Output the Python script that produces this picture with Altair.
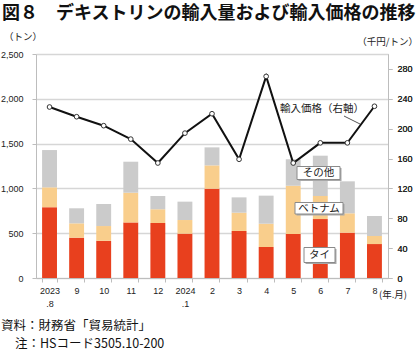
import altair as alt
import pandas as pd

months = ["2023.8", "9", "10", "11", "12", "2024.1", "2", "3", "4", "5", "6", "7", "8"]
thai = [790, 450, 415, 620, 615, 495, 997, 525, 346, 491, 658, 506, 379]
vietnam = [222, 160, 165, 332, 152, 152, 260, 204, 260, 539, 257, 216, 90]
others = [416, 168, 246, 346, 148, 205, 201, 171, 313, 295, 450, 357, 223]
price = [229, 216, 204, 186, 154, 194, 220, 159, 270, 154, 181, 181, 230]

series_names = ["タイ", "ベトナム", "その他"]
series_colors = ["#E8401E", "#F9CE8C", "#CBCBCB"]

rows = []
for i, m in enumerate(months):
    for k, (name, vals) in enumerate(zip(series_names, [thai, vietnam, others])):
        rows.append({"month": m, "series": name, "value": vals[i], "order": k})
bars_df = pd.DataFrame(rows)
line_df = pd.DataFrame({"month": months, "price": price})

JP = "Noto Sans CJK JP"
AX = "Liberation Sans"

xenc = alt.X(
    "month:N", sort=months, title=None,
    scale=alt.Scale(paddingInner=0.45, paddingOuter=0.225),
    axis=alt.Axis(
        labelAngle=0, tickBand="extent", tickSize=4, tickColor="#BDBDBD",
        domainColor="#BDBDBD", labelPadding=4, labelFont=AX, labelFontSize=9,
        labelColor="#222", labelLineHeight=13, labelBaseline="top",
        labelExpr="indexof(datum.label, '.') > 0 ? [substring(datum.label, 0, 4), substring(datum.label, 4)] : datum.label",
    ),
)

bars = alt.Chart(bars_df).mark_bar().encode(
    x=xenc,
    y=alt.Y(
        "sum(value):Q", title=None, stack="zero",
        scale=alt.Scale(domain=[0, 2500], nice=False),
        axis=alt.Axis(
            values=[0, 500, 1000, 1500, 2000, 2500], format=",d", orient="left",
            grid=True, gridColor="#D6D6D6", gridWidth=1.5, tickSize=4,
            tickColor="#BDBDBD", domainColor="#BDBDBD", labelPadding=9,
            labelFont=AX, labelFontSize=9, labelColor="#222",
        ),
    ),
    color=alt.Color("series:N", scale=alt.Scale(domain=series_names, range=series_colors), legend=None),
    order=alt.Order("order:Q", sort="ascending"),
)

yright = alt.Y(
    "price:Q", title=None,
    scale=alt.Scale(domain=[0, 300], nice=False),
    axis=alt.Axis(
        values=[0, 40, 80, 120, 160, 200, 240, 280], orient="right", grid=False,
        tickSize=4, tickColor="#BDBDBD", domainColor="#BDBDBD", labelPadding=5,
        labelFont=AX, labelFontSize=9, labelColor="#222",
    ),
)

line = alt.Chart(line_df).mark_line(color="#111", strokeWidth=2).encode(
    x=alt.X("month:N", sort=months), y=yright
)
pts = alt.Chart(line_df).mark_point(
    filled=True, fill="white", stroke="#333", strokeWidth=1, size=22, opacity=1
).encode(x=alt.X("month:N", sort=months), y=yright)

one = alt.Data(values=[{"a": 1}])


def txt(s, x, y, size=10, align="left", weight="normal", font=JP, color="#222"):
    return alt.Chart(one).mark_text(
        text=s, align=align, baseline="middle", fontSize=size, fontWeight=weight,
        font=font, color=color,
    ).encode(x=alt.value(x), y=alt.value(y))


def rectsym(x1, x2, y1, y2, fill, stroke=None):
    w = x2 - x1
    h = y2 - y1
    r = h / w
    path = f"M-1,{-r:.4f}H1V{r:.4f}H-1Z"
    kw = dict(shape=path, filled=True, fill=fill, size=w * w, opacity=1, fillOpacity=1)
    if stroke:
        kw.update(stroke=stroke, strokeWidth=1, strokeOpacity=1)
    else:
        kw.update(strokeWidth=0)
    return alt.Chart(one).mark_point(**kw).encode(
        x=alt.value((x1 + x2) / 2), y=alt.value((y1 + y2) / 2)
    )


def box(x1, x2, y1, y2):
    return rectsym(x1 + 1.5, x2 + 1.5, y1 + 1.5, y2 + 1.5, "#A8A8A8") + rectsym(
        x1, x2, y1, y2, "white", "#8A8A8A"
    )


leader = alt.Chart(one).mark_rule(color="#555", strokeWidth=1).encode(
    x=alt.value(308), x2=alt.value(324), y=alt.value(62), y2=alt.value(70)
)

annotations = [
    box(261, 304, 112.5, 125.5), txt("その他", 282.5, 119, size=10.5, align="center"),
    box(259, 307, 148.5, 160), txt("ベトナム", 283, 154.5, size=10.5, align="center"),
    box(268, 299, 193.5, 208.5), txt("タイ", 283.5, 201, size=10.5, align="center"),
    txt("輸入価格（右軸）", 286, 55, size=10.5, align="center"),
    leader,
    txt("図８　デキストリンの輸入量および輸入価格の推移", -34, -40, size=18, weight="bold", color="#111"),
    txt("（トン）", -32, -17, size=9.5),
    txt("（千円/トン）", 382, -12, size=9.5, align="right"),
    txt("(年.月)", 343, 241, size=9.5),
    txt("資料：財務省「貿易統計」", -35, 272, size=12.5, color="#111"),
    txt("注：HSコード3505.10-200", -21, 290, size=12.5, color="#111"),
]

chart = alt.layer(bars, line, pts, *annotations).resolve_scale(y="independent").properties(
    width=352, height=224,
    padding={"left": 36, "top": 54, "right": 32, "bottom": 76},
    autosize=alt.AutoSizeParams(type="none"),
    background="white",
).configure_view(stroke=None)

chart.save("out.html", embed_options={"renderer": "svg", "actions": False})
